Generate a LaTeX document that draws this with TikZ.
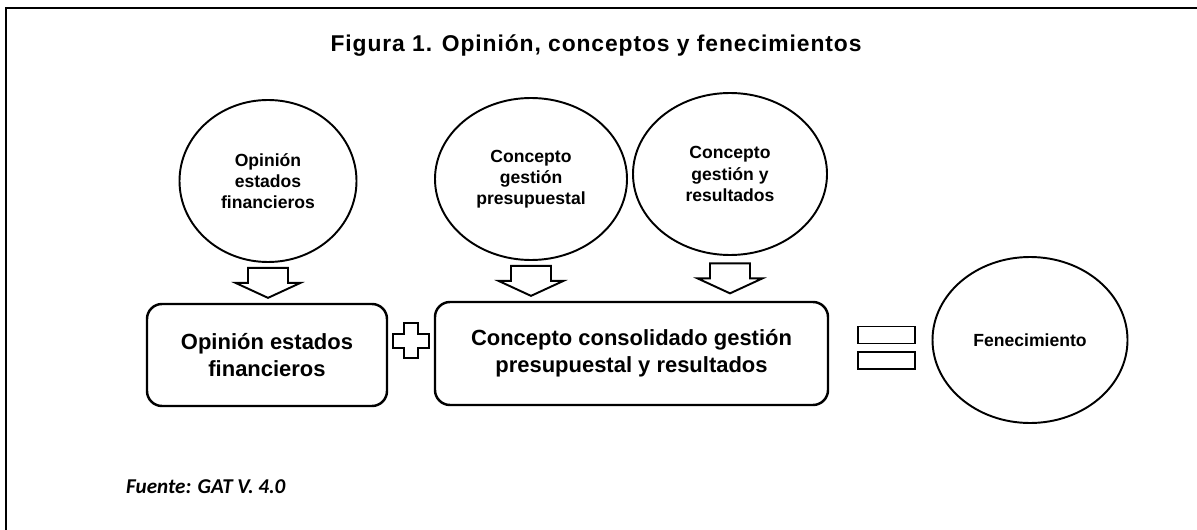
\documentclass[tikz,border=0pt]{standalone}
\usepackage{fontspec}
\setmainfont{Liberation Sans}
\newfontfamily\titlefont[LetterSpace=4]{Liberation Sans}
\newfontfamily\sourcefont{Carlito}
\usetikzlibrary{shapes,arrows,positioning,calc,arrows.meta}

\begin{document}
\begin{tikzpicture}[
        concept/.style={ellipse, draw, line width=1.1pt, align=center, inner sep=0pt, font=\bfseries\fontsize{10}{12}\selectfont},
        result/.style={rectangle, draw, rounded corners=0.3cm, line width=1.4pt, align=center, font=\bfseries\fontsize{12.5}{15.3}\selectfont},
        eqbar/.style={rectangle, draw, line width=1.1pt, inner sep=0pt, minimum width=1.14cm, minimum height=0.34cm},
        symbol/.style={draw, line width=1.1pt, line join=miter}]

        \useasboundingbox (0,0) rectangle (23.94,-10.6);
        \draw [line width=1.1pt] (0.12,-10.6) |- (23.94,-0.16);

        \node [font=\titlefont\bfseries\fontsize{13}{15}\selectfont] (title) at (11.92,-0.92) {Figura 1. Opinión, conceptos y fenecimientos};

        \node [concept, minimum width=3.54cm, minimum height=3.24cm] (opinion) at (5.36,-3.62) {Opinión\\estados\\financieros};
        \node [concept, minimum width=3.84cm, minimum height=3.24cm] (presup) at (10.62,-3.58) {Concepto\\gestión\\presupuestal};
        \node [concept, minimum width=3.88cm, minimum height=3.24cm] (gestres) at (14.6,-3.48) {Concepto\\gestión y\\resultados};

        \node [result, minimum width=4.8cm, minimum height=2.04cm] (opbox) at (5.34,-7.1) {Opinión estados\\financieros};
        \node [result, minimum width=7.86cm, minimum height=2.06cm] (consbox) at (12.63,-7.07) {Concepto consolidado gestión\\presupuestal y resultados};

        \node [concept, minimum width=3.9cm, minimum height=3.32cm] (fenec) at (20.6,-6.8) {Fenecimiento};

        \foreach \from/\to in {opinion/opbox, presup/consbox, gestres/consbox}
            \path [symbol, shift={($(\from.south)!0.5!(\from.south |- \to.north)$)}]
                (-0.4,0.3) -- (0.4,0.3) -- (0.4,0) -- (0.65,0) -- (0,-0.3) -- (-0.65,0) -- (-0.4,0) -- cycle;

        \coordinate (plus) at ($(opbox.east)!0.5!(consbox.west)+(0,0.27)$);
        \path [symbol, shift={(plus)}] (-0.14,0.35) -- (0.14,0.35) -- (0.14,0.14) -- (0.36,0.14) -- (0.36,-0.14) -- (0.14,-0.14) -- (0.14,-0.35) -- (-0.14,-0.35) -- (-0.14,-0.14) -- (-0.36,-0.14) -- (-0.36,0.14) -- (-0.14,0.14) -- cycle;

        \node [eqbar] (eqtop) at (17.73,-6.7) {};
        \node [eqbar, below=0.14cm of eqtop] (eqbot) {};

        \node [anchor=west, font=\sourcefont\bfseries\itshape\fontsize{12}{14}\selectfont] (source) at (2.4,-9.74) {Fuente: GAT V. 4.0};
    \end{tikzpicture}
\end{document}
